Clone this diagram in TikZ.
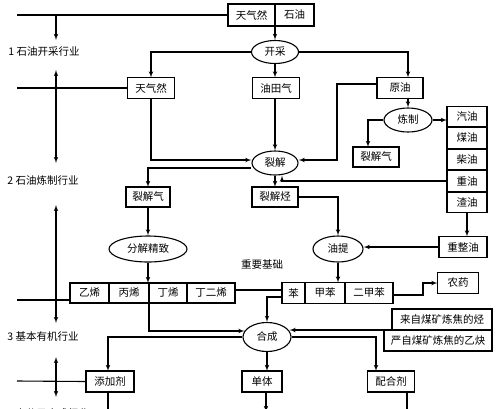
\documentclass[tikz,border=0pt]{standalone}
\usepackage{fontspec}
\setmainfont{Noto Sans CJK SC}
\usetikzlibrary{shapes,arrows,positioning,calc}
\tikzstyle{box}=[rectangle,
                 draw,
                 line width=1.1pt,
                 inner sep=0pt,
                 outer sep=0pt,
                 minimum height=21pt,
                 minimum width=46pt]
\tikzstyle{oval}=[ellipse,
                  draw,
                  line width=1.1pt,
                  inner sep=0pt,
                  minimum width=47pt,
                  minimum height=23pt]
\tikzstyle{level}=[inner sep=0pt]
\tikzstyle{line} = [draw, line width=1.1pt, -latex']
\tikzstyle{biline} = [draw, line width=1.1pt, latex'-latex']
\tikzstyle{rule} = [draw, line width=1.1pt]

\begin{document}
\begin{tikzpicture}[x=1pt,y=-1pt,font=\fontsize{10.5}{12}\selectfont]
      \useasboundingbox (0,0) rectangle (500,408);

      % industry levels on the left
      \node [level] (l1) at (44,52) {1 石油开采行业};
      \node [level] (l2) at (43,181) {2 石油炼制行业};
      \node [level] (l3) at (43,337) {3 基本有机行业};
      \node [level] (l4) at (48,414) {4 高分子合成行业};
      \coordinate (s1) at (17,15);
      \coordinate (s2) at (17,88);
      \coordinate (s3) at (17,300);
      \coordinate (s4) at (17,381);
      \coordinate (a0) at (56,15);
      \coordinate (a1) at (56,40);
      \coordinate (a2) at (56,70);
      \coordinate (a3) at (56,163);
      \coordinate (a4) at (56,205);
      \coordinate (a5) at (56,323);
      \coordinate (a6) at (56,357);
      \coordinate (a7) at (56,397);

      % level 1
      \node [box, minimum width=47pt, minimum height=22pt] (tq) at (251.5,15) {天气然};
      \node [box, minimum width=39pt, minimum height=22pt, right=0pt of tq] (sy) {石油};
      \node [oval] (kc) at (275,52) {开采};
      \node [box, minimum width=47pt] (tqr) at (151,88) {天气然};
      \node [box, minimum width=47pt] (ytq) at (276,88) {油田气};
      \node [box, minimum width=46pt] (yy) at (400,88) {原油};

      % level 2
      \node [oval, minimum width=48pt, minimum height=24pt] (lz) at (408,120) {炼制};
      \node [box, minimum height=20pt] (ljqr) at (376,157) {裂解气};
      \matrix[row sep=0pt] (oils) at (467,159.5) {
        \node (qy)  [box, minimum width=40pt, minimum height=20.4pt] {汽油}; \\
        \node (my)  [box, minimum width=40pt, minimum height=20.4pt] {煤油}; \\
        \node (cy)  [box, minimum width=40pt, minimum height=20.4pt] {柴油}; \\
        \node (zy)  [box, minimum width=40pt, minimum height=20.4pt] {重油}; \\
        \node (zhy) [box, minimum width=40pt, minimum height=20.4pt] {渣油}; \\
      };
      \node [oval, minimum width=46pt, minimum height=24pt] (lj) at (275,163) {裂解};
      \node [box, minimum width=44pt, minimum height=20pt] (ljq) at (148,197) {裂解气};
      \node [box, minimum height=20pt] (ljt) at (275,197) {裂解烃};
      \node [oval, minimum width=78pt, minimum height=26pt] (fj) at (148,249) {分解精致};
      \node [oval, minimum width=50pt, minimum height=26pt] (yt) at (338,249) {油提};
      \node [box, minimum width=48pt] (czy) at (463,247) {重整油};

      % level 3
      \node [box, minimum width=39pt, minimum height=20pt] (yx) at (89.5,293) {乙烯};
      \node [box, minimum width=40pt, minimum height=20pt, right=0pt of yx] (bx) {丙烯};
      \node [box, minimum width=38pt, minimum height=20pt, right=0pt of bx] (dx) {丁烯};
      \node [box, minimum width=48pt, minimum height=20pt, right=0pt of dx] (ddx) {丁二烯};
      \node [level] (zyjc) at (262,265) {重要基础};
      \node [box, minimum width=23pt] (bz) at (293.5,293) {苯};
      \node [box, minimum width=40pt, right=0pt of bz] (jb) {甲苯};
      \node [box, minimum width=48pt, right=0pt of jb] (ejb) {二甲苯};
      \node [box, minimum width=41pt] (ny) at (458,283) {农药};
      \node [box, minimum width=100pt] (cl1) at (442,319.5) {来自煤矿炼焦的烃};
      \node [box, minimum width=108pt] (cl2) at (438,340.5) {严自煤矿炼焦的乙炔};
      \node [oval, minimum width=48pt, minimum height=29pt] (hc) at (267,337) {合成};

      % level 4
      \node [box, minimum width=48pt] (tjj) at (110,381.5) {添加剂};
      \node [box, minimum width=40pt] (dt) at (262,381.5) {单体};
      \node [box, minimum width=47pt] (phj) at (391,381.5) {配合剂};
      \coordinate (e1) at (108,412);
      \coordinate (e2) at (266,412);
      \coordinate (e3) at (407,412);

      % level rules and ranges
      \path [rule] (s1) -- (tq.west);
      \path [rule] (s2) -- (tqr.west);
      \path [rule] (s3) -- (s3 -| yx.west);
      \path [rule] (s4) -- (tjj.west);
      \path [line] (a0) -- (a1);
      \path [biline] (a2) -- (a3);
      \path [biline] (a4) -- (a5);
      \path [biline] (a6) -- (a7);

      % flows
      \path [line] (tq.south east) -- (kc.north);
      \path [line] (kc.west) -| (tqr.north);
      \path [line] (kc.south) -- (kc.south |- ytq.north);
      \path [line] (kc.east) -| (lz.north |- yy.north);
      \path [line] (lz.north |- yy.south) -- (lz.north);
      \path [line] ([yshift=4pt]yy.west) -| (337,160) -- ([yshift=3pt]lj.east);
      \path [line] (tqr.south) |- ([yshift=3pt]lj.west);
      \path [line] (lj.north |- ytq.south) -- (lj.north);
      \path [line] (lz.west) -| ([xshift=-8pt]ljqr.north);
      \path [line] (lz.east) -- (lz.east -| qy.west);
      \path [line] (zy.west) -| ([xshift=7pt]lj.south);
      \path [line] (lj.south) -- (ljt.north);
      \path [line] ([yshift=-5pt]lj.west) -| (ljq.north);
      \path [line] (ljq.south) -- (fj.north);
      \path [line] (ljt.east) -| (yt.north);
      \path [line] (zhy.south) -- (zhy.south |- czy.north);
      \path [line] (czy.west) -- (czy.west -| yt.east);
      \path [line] (fj.south) -- (fj.south |- bx.north);
      \path [line] (bx.south east) |- (hc.165);
      \path [rule] ([yshift=3pt]ddx.east) -- ([yshift=3pt]bz.west);
      \path [line] (yt.south) -- (yt.south |- jb.north);
      \path [line] ([yshift=-4pt]bz.west) -| (hc.north);
      \path [line] ([yshift=-2pt]ejb.east) -- ++(30,0) |- (ny.west);
      \path [line] (cl2.north west) -- (cl2.north west -| hc.15);
      \path [line] (hc.east) -| ([xshift=-15pt]phj.north);
      \path [line] (hc.south) -- (hc.south |- dt.north);
      \path [line] (hc.west) -| ([xshift=-2pt]tjj.north);
      \path [rule] ([xshift=-2pt]tjj.south) -- (e1);
      \path [line] (dt.south -| e2) -- (e2);
      \path [rule] (phj.south -| e3) -- (e3);
\end{tikzpicture}
\end{document}
